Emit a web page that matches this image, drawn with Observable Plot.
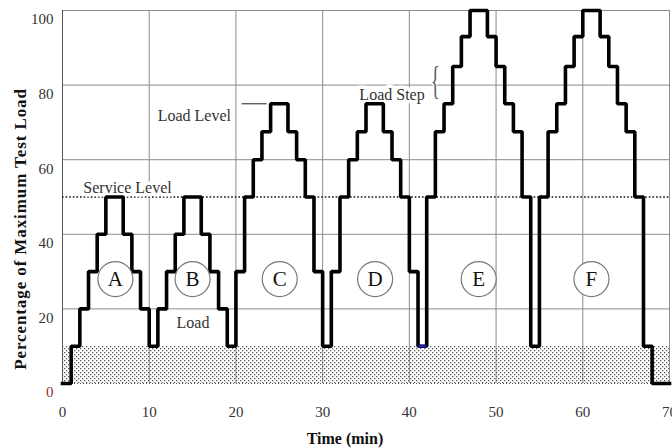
<!DOCTYPE html>
<html><head><meta charset="utf-8">
<script src="https://cdn.jsdelivr.net/npm/d3@7"></script>
<script src="https://cdn.jsdelivr.net/npm/@observablehq/plot@0.6"></script>
<style>
body{margin:0;background:#fff;}
#chart svg{display:block;}
</style>
</head><body><div id="chart"></div>
<script>
// Load history: each step starts at stepTimes[i] (min) with load stepLoads[i] (% of max test load)
const stepTimes = [0,1,2,3,4,5,7,8,9,10,11,12,13,14,16,17,18,19,20,21,22,23,24,26,27,28,29,30,31,32,33,34,35,37,38,39,40,41,42,43,44,45,46,47,49,50,51,52,53,54,55,56,57,58,59,60,62,63,64,65,66,67,68,70];
const stepLoads = [0,10,20,30,40,50,40,30,20,10,20,30,40,50,40,30,20,10,30,50,60,67.5,75,67.5,60,50,30,10,30,50,60,67.5,75,67.5,60,50,30,10,50,67.5,75,85,93,100,93,85,75,67.5,50,10,50,67.5,75,85,93,100,93,85,75,67.5,50,10,0,0];

// Cycle labels
const cycleLabels = ["A","B","C","D","E","F"];
const cycleX = [6.1, 15.0, 25.05, 36.05, 48.0, 61.0];
const cycleY = [28, 28, 28, 28, 28, 28];

// Reference levels
const serviceLevel = 50;
const bandTime = [0, 70];
const bandLoad = [0, 10];

// Annotations
const noteTexts = ["Load Level", "Service Level", "Load Step", "Load"];
const noteX = [15.2, 7.5, 38.0, 15.05];
const noteY = [71.7, 52.4, 77.4, 16.2];
const leaderX = [20.7, 23.6];
const leaderY = 75;
const braceX = 43.0;
const braceY = 81;
const blueSegX = [41.1, 42.0];
const blueSegY = 10;

// Axes
const xTicks = [0,10,20,30,40,50,60,70];
const yTicks = [20,40,60,80,100];
const yZeroTick = [0];
const xTitle = "Time (min)";
const yTitle = "Percentage of Maximum Test Load";

const serif = "'Liberation Serif','Times New Roman',serif";
const gridColor = "#8c8c8c";

const loadData = stepTimes.map((t, i) => ({t, load: stepLoads[i]}));
const cycles = cycleLabels.map((c, i) => ({c, x: cycleX[i], y: cycleY[i]}));
const notes = noteTexts.map((s, i) => ({s, x: noteX[i], y: noteY[i]}));

const chart = Plot.plot({
  width: 672, height: 448,
  marginLeft: 62, marginRight: 3, marginTop: 10, marginBottom: 65,
  style: {fontFamily: serif, fontSize: "15px", background: "white", color: "#222"},
  x: {domain: [0, 70]},
  y: {domain: [0, 100]},
  marks: [
    Plot.gridX(xTicks.slice(1), {stroke: gridColor, strokeOpacity: 1}),
    Plot.gridY(yTicks, {stroke: gridColor, strokeOpacity: 1}),
    Plot.rect([{x1: bandTime[0], x2: bandTime[1], y1: bandLoad[0], y2: bandLoad[1]}],
      {x1: "x1", x2: "x2", y1: "y1", y2: "y2", fill: "url(#stipple)"}),
    Plot.ruleY([0], {stroke: "#444", strokeDasharray: "1,2"}),
    Plot.ruleX([0], {stroke: "#555"}),
    Plot.ruleY([serviceLevel], {stroke: "#111", strokeWidth: 1.6, strokeDasharray: "1.6,2"}),
    Plot.text(notes, {x: "x", y: "y", text: "s", fontSize: 16, fill: "#333",
      stroke: "white", strokeWidth: 7, paintOrder: "stroke"}),
    Plot.ruleY([leaderY], {x1: leaderX[0], x2: leaderX[1], stroke: "#444", strokeWidth: 1.2}),
    Plot.text(["{"], {x: braceX, y: braceY, fontSize: 40, fill: "#555",
      stroke: "white", strokeWidth: 4, paintOrder: "stroke"}),
    Plot.line(loadData, {x: "t", y: "load", curve: "step-after", stroke: "#000",
      strokeWidth: 3.6, strokeLinejoin: "miter", strokeLinecap: "square"}),
    Plot.ruleY([blueSegY], {x1: blueSegX[0], x2: blueSegX[1], stroke: "#1c1ca8", strokeWidth: 3}),
    Plot.dot(cycles, {x: "x", y: "y", r: 17.5, fill: "white", stroke: "#777", strokeWidth: 1.2}),
    Plot.text(cycles, {x: "x", y: "y", text: "c", fontSize: 21, fill: "#111"}),
    Plot.axisX(xTicks, {tickSize: 0, tickPadding: 23, fill: "#333", label: null}),
    Plot.axisY(yTicks, {tickSize: 0, tickPadding: 9, dy: 9, fill: "#333", label: null}),
    Plot.axisY(yZeroTick, {tickSize: 0, tickPadding: 9, dy: 9, fill: "#9b2a2a", label: null}),
    Plot.text([xTitle], {frameAnchor: "bottom", lineAnchor: "middle", textAnchor: "middle", dx: -21, dy: 55,
      fontWeight: "bold", fontSize: 16, fill: "#111"}),
    Plot.text([yTitle], {frameAnchor: "left", lineAnchor: "middle", textAnchor: "middle", rotate: -90, dx: -42, dy: 32,
      fontWeight: "bold", fontSize: 17, fill: "#111"})
  ]
});

// stipple pattern for the lowest load band
const ns = "http://www.w3.org/2000/svg";
const defs = document.createElementNS(ns, "defs");
const pat = document.createElementNS(ns, "pattern");
pat.setAttribute("id", "stipple");
pat.setAttribute("width", "4");
pat.setAttribute("height", "4");
pat.setAttribute("patternUnits", "userSpaceOnUse");
for (const [px, py] of [[0,0],[2,2]]) {
  const r = document.createElementNS(ns, "rect");
  r.setAttribute("x", px); r.setAttribute("y", py);
  r.setAttribute("width", "1.3"); r.setAttribute("height", "1.3");
  r.setAttribute("fill", "#5a5a5a");
  pat.appendChild(r);
}
defs.appendChild(pat);
chart.insertBefore(defs, chart.firstChild);

chart.querySelectorAll("text").forEach(t => {
  if (t.textContent === yTitle) t.style.letterSpacing = "0.9px";
  if (t.textContent === "{") t.setAttribute("transform", t.getAttribute("transform") + " scale(0.45,1)");
});

document.getElementById("chart").appendChild(chart);
</script>
</body></html>
